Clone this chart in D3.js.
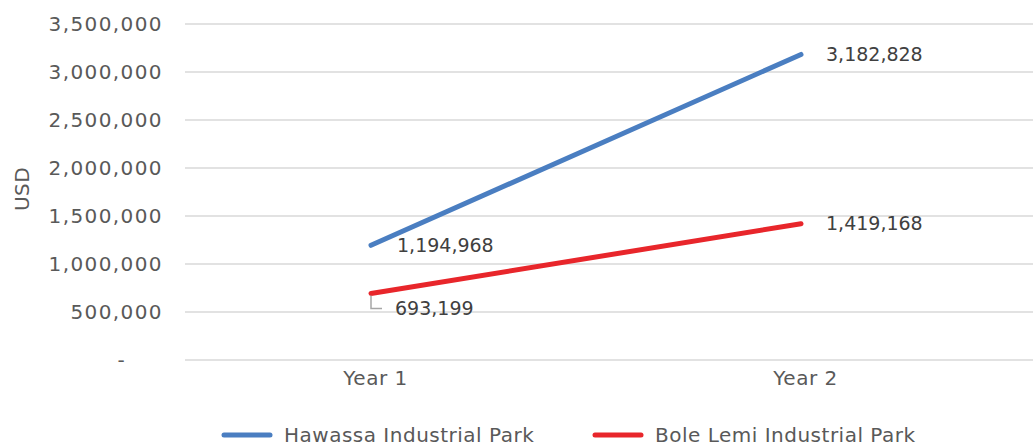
<!DOCTYPE html>
<html>
<head>
<meta charset="utf-8">
<script src="https://cdn.jsdelivr.net/npm/d3@7"></script>
<style>
  body { margin: 0; background: #fff; }
  text { font-family: "DejaVu Sans", sans-serif; fill: #595959; letter-spacing: 0.5px; }
</style>
</head>
<body>
<div id="chart"></div>
<script>
var years = ["Year 1", "Year 2"]
var hawassa = [1194968, 3182828]
var boleLemi = [693199, 1419168]
var seriesNames = ["Hawassa Industrial Park", "Bole Lemi Industrial Park"]
var seriesColors = ["#4A7EC1", "#E8262B"]
var yTicks = [0, 500000, 1000000, 1500000, 2000000, 2500000, 3000000, 3500000]

var width = 1033
var height = 447
var plotLeft = 185, plotRight = 1033, plotTop = 24, plotBottom = 360
var fontSize = "20px"

var x = d3.scalePoint().domain(years).range([371, 801])
var y = d3.scaleLinear().domain([0, 3500000]).range([plotBottom, plotTop])
var f = d3.format(",d")

var svg = d3.select("#chart").append("svg")
    .attr("width", width)
    .attr("height", height)

// gridlines
svg.append("g").selectAll("line")
    .data(yTicks)
    .enter().append("line")
    .attr("x1", plotLeft).attr("x2", plotRight)
    .attr("y1", function(d){ return y(d) }).attr("y2", function(d){ return y(d) })
    .attr("stroke", "#d9d9d9").attr("stroke-width", 1.3)

// y axis labels
var yAxis = svg.append("g")
    .attr("transform", "translate(" + [163, 0] + ")")
    .call(d3.axisLeft(y).tickValues(yTicks).tickSize(0)
        .tickFormat(function(d){ return d == 0 ? "-" : f(d) }))
yAxis.select(".domain").remove()
yAxis.selectAll("text")
    .attr("x", 0)
    .style("font-size", fontSize)
    .style("font-family", "'DejaVu Sans', sans-serif")
    .style("letter-spacing", "1.4px")
    .style("fill", "#595959")
yAxis.selectAll(".tick").filter(function(d){ return d == 0 })
    .select("text").attr("x", -37)

svg.append("text")
    .attr("transform", "translate(" + [22, 189] + ") rotate(-90)")
    .attr("text-anchor", "middle")
    .attr("dy", "0.35em")
    .style("font-size", fontSize)
    .text("USD")

// x axis labels
var xAxis = svg.append("g")
    .attr("transform", "translate(" + [4, 375] + ")")
    .call(d3.axisBottom(x).tickSize(0))
xAxis.select(".domain").remove()
xAxis.selectAll("text")
    .attr("y", 0)
    .attr("dy", "0.5em")
    .style("font-size", fontSize)
    .style("font-family", "'DejaVu Sans', sans-serif")
    .style("fill", "#595959")

// lines
var line = d3.line()
    .x(function(d, i){ return x(years[i]) })
    .y(function(d){ return y(d) })

var allSeries = [hawassa, boleLemi]
svg.selectAll("path.series")
    .data(allSeries)
    .enter().append("path")
    .attr("class", "series")
    .attr("d", line)
    .attr("fill", "none")
    .attr("stroke", function(d, i){ return seriesColors[i] })
    .attr("stroke-width", 5)
    .attr("stroke-linecap", "round")

// data labels
var labelOffsets = [
  [[26, 0], [25, 0]],
  [[24, 15], [25, 0]]
]
allSeries.forEach(function(s, si){
  s.forEach(function(v, i){
    svg.append("text")
      .attr("x", x(years[i]) + labelOffsets[si][i][0])
      .attr("y", y(v) + labelOffsets[si][i][1])
      .attr("dy", "0.35em")
      .style("font-size", "19px")
      .style("letter-spacing", "0px")
      .style("fill", "#404040")
      .text(f(v))
  })
})

// leader line for 693,199
var lx = x(years[0]), ly = y(boleLemi[0])
svg.append("path")
    .attr("d", "M" + lx + "," + (ly + 2) + "V" + (ly + 15) + "H" + (lx + 11))
    .attr("fill", "none")
    .attr("stroke", "#a6a6a6")
    .attr("stroke-width", 1.5)

// legend
var legendX = [222, 593]
seriesNames.forEach(function(name, i){
  var g = svg.append("g").attr("transform", "translate(" + [legendX[i], 435] + ")")
  g.append("line")
    .attr("x1", 2).attr("x2", 48)
    .attr("stroke", seriesColors[i])
    .attr("stroke-width", 5)
    .attr("stroke-linecap", "round")
  g.append("text")
    .attr("x", 62)
    .attr("dy", "0.35em")
    .style("font-size", fontSize)
    .text(name)
})
</script>
</body>
</html>
